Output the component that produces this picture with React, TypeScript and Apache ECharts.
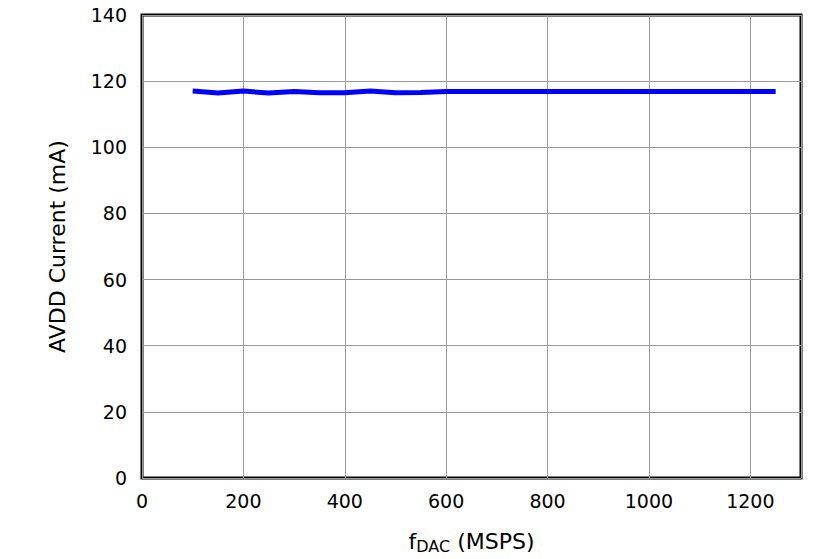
import React, { useEffect, useRef } from "react";
import * as echarts from "echarts";

const fdac = [100, 150, 200, 250, 300, 350, 400, 450, 500, 550, 600, 650, 700, 750, 800, 850, 900, 950, 1000, 1050, 1100, 1150, 1200, 1250];
const avdd = [117, 116.4, 117, 116.4, 116.9, 116.5, 116.5, 117, 116.5, 116.6, 116.9, 116.9, 116.9, 116.9, 116.9, 116.9, 116.9, 116.9, 116.9, 116.9, 116.9, 116.9, 116.9, 116.9];
const xTicks = { min: 0, max: 1300, interval: 200 };
const yTicks = { min: 0, max: 140, interval: 20 };

export default function App() {
  const ref = useRef<HTMLDivElement>(null);
  useEffect(() => {
    document.body.style.margin = "0";
    document.body.style.overflow = "hidden";
    const chart = echarts.init(ref.current!, null, { renderer: "svg" });
    const font = "'DejaVu Sans', sans-serif";
    chart.setOption({
      animation: false,
      grid: { left: 142, right: 38, top: 15, bottom: 76, show: true, borderColor: "#000", borderWidth: 3, backgroundColor: "transparent" },
      xAxis: {
        type: "value",
        min: xTicks.min,
        max: xTicks.max,
        interval: xTicks.interval,
        axisLine: { show: false },
        axisTick: { show: false },
        splitLine: { show: true, lineStyle: { color: "#999", width: 1 } },
        axisLabel: {
          color: "#000", fontSize: 19, fontFamily: font, margin: 13,
          formatter: (v: number) => (v === 1300 ? "" : String(v)),
        },
        name: "{f|f}{sub|DAC}{f| (MSPS)}",
        nameLocation: "middle",
        nameGap: 51,
        nameTextStyle: {
          rich: {
            f: { fontSize: 22, fontFamily: font, color: "#000" },
            sub: { fontSize: 16, fontFamily: font, color: "#000", verticalAlign: "bottom", padding: [9, 0, 0, 0] },
          },
        },
      },
      yAxis: {
        type: "value",
        min: yTicks.min,
        max: yTicks.max,
        interval: yTicks.interval,
        axisLine: { show: false },
        axisTick: { show: false },
        splitLine: { show: true, lineStyle: { color: "#999", width: 1 } },
        axisLabel: { color: "#000", fontSize: 19, fontFamily: font, margin: 15 },
        name: "AVDD Current (mA)",
        nameLocation: "middle",
        nameGap: 74,
        nameTextStyle: { color: "#000", fontSize: 22, fontFamily: font },
      },
      series: [
        {
          type: "line",
          data: fdac.map((x, i) => [x, avdd[i]]),
          showSymbol: false,
          lineStyle: { color: "#0000ff", width: 5 },
          itemStyle: { color: "#0000ff" },
        },
      ],
    });
    return () => chart.dispose();
  }, []);
  return <div ref={ref} style={{ width: 839, height: 559 }} />;
}
